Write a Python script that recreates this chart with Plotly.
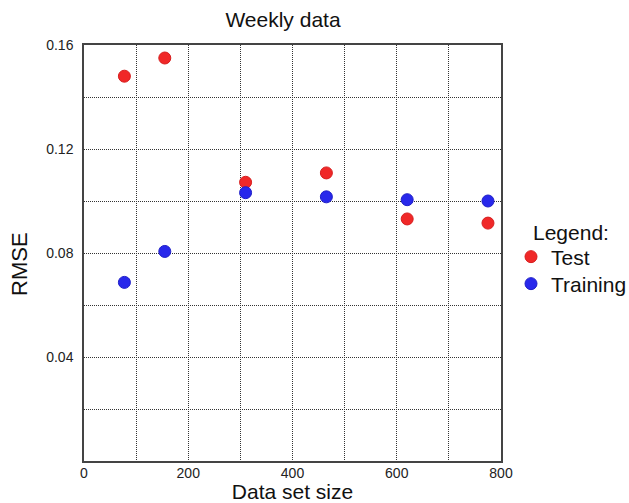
import plotly.graph_objects as go

sizes = [77.5, 155, 310, 465, 620, 775]
test_rmse = [0.148, 0.155, 0.1072, 0.1108, 0.0931, 0.0915]
train_rmse = [0.0687, 0.0806, 0.1032, 0.1016, 0.1005, 0.1000]

x_tickvals = [0, 100, 200, 300, 400, 500, 600, 700, 800]
x_ticktext = ["0", "", "200", "", "400", "", "600", "", "800"]
y_tickvals = [0.0, 0.02, 0.04, 0.06, 0.08, 0.10, 0.12, 0.14, 0.16]
y_ticktext = ["", "", "0.04", "", "0.08", "", "0.12", "", "0.16"]

FONT = "Liberation Sans, Arial, sans-serif"
W, H = 629, 503
L, R, T, B = 84, 128, 45, 42
PW, PH = W - L - R, H - T - B

fig = go.Figure()
fig.add_trace(go.Scatter(
    x=sizes, y=test_rmse, mode="markers", name="Test", legend="legend", showlegend=True,
    marker=dict(size=12, color="rgb(240,40,40)", line=dict(width=1, color="rgb(215,30,30)")),
))
fig.add_trace(go.Scatter(
    x=sizes, y=train_rmse, mode="markers", name="Training", legend="legend2", showlegend=True,
    marker=dict(size=12, color="rgb(40,40,235)", line=dict(width=1, color="rgb(30,30,200)")),
))

axis_common = dict(
    showgrid=True, gridcolor="#333", griddash="1px,1px", gridwidth=1,
    showline=True, linecolor="#444", linewidth=1.5, mirror=True,
    zeroline=False, ticks="", automargin=False,
    tickfont=dict(size=14, family=FONT, color="#222"),
)

leg_common = dict(
    font=dict(size=21, family=FONT, color="#111"),
    xref="container", yref="container",
    x=511 / W, xanchor="left", yanchor="middle",
    itemwidth=30, bgcolor="rgba(0,0,0,0)", visible=True,
)

fig.update_layout(
    width=W, height=H,
    showlegend=True,
    margin=dict(l=L, r=R, t=T, b=B),
    paper_bgcolor="white", plot_bgcolor="white",
    font=dict(family=FONT, color="#111"),
    title=dict(text="Weekly data", x=283 / W, xanchor="center",
               y=1 - 20 / H, yanchor="middle", font=dict(size=21, family=FONT, color="#111")),
    xaxis=dict(range=[0, 800], tickvals=x_tickvals, ticktext=x_ticktext,
               title=dict(text="Data set size", font=dict(size=21, family=FONT, color="#111"), standoff=0),
               ticklabelstandoff=-2, **axis_common),
    yaxis=dict(range=[0, 0.16], tickvals=y_tickvals, ticktext=y_ticktext,
               ticklabelstandoff=6, **axis_common),
    legend=dict(y=1 - 257 / H, **leg_common),
    legend2=dict(y=1 - 284 / H, **leg_common),
    annotations=[
        dict(text="Legend:", xref="paper", yref="paper",
             x=(531 - L) / PW, y=1 - (232 - T) / PH, xanchor="left", yanchor="middle",
             showarrow=False, font=dict(size=21, family=FONT, color="#111")),
        dict(text="RMSE", xref="paper", yref="paper", textangle=-90,
             x=(19 - L) / PW, y=1 - (264 - T) / PH, xanchor="center", yanchor="middle",
             showarrow=False, font=dict(size=22, family=FONT, color="#111")),
    ],
)

fig.write_html("out.html")
